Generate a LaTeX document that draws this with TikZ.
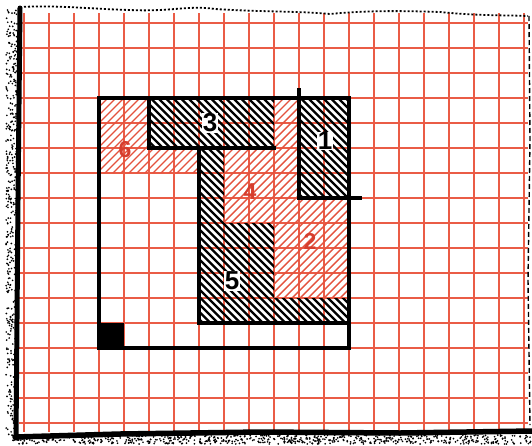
\documentclass[tikz,border=0pt]{standalone}
\usepackage{fontspec}
\setsansfont{Liberation Sans}
\definecolor{gridred}{RGB}{234,92,70}
\definecolor{hatchred}{RGB}{228,82,62}
\definecolor{labred}{RGB}{214,62,46}
\tikzset{
  gridline/.style={draw=gridred, line width=1.4pt},
  blackhatch/.style={draw=black, line width=2.3pt},
  redhatch/.style={draw=hatchred, line width=1.4pt},
  wall/.style={draw=black, line width=3.6pt, line join=miter, line cap=rect},
  blabel/.style={font=\sffamily\bfseries\fontsize{26}{26}\selectfont, text=black, fill=white, inner sep=0.5pt},
  rlabel/.style={font=\sffamily\bfseries\fontsize{23}{23}\selectfont, text=labred, inner sep=0.5pt}
}
\begin{document}
\begin{tikzpicture}[x=1pt,y=-1pt]
\useasboundingbox (0,0) rectangle (532,445);
\fill[white] (0,0) rectangle (532,445);
% grid paper
\foreach \i in {0,...,20} \draw[gridline] (24+25*\i,13) -- (24+25*\i,432);
\foreach \j in {0,...,16} \draw[gridline] (19,23+25*\j) -- (528,23+25*\j);
% red hatched areas
\begin{scope}
  \clip (99,98) -- (149,98) -- (149,148) -- (199,148) -- (199,173) -- (99,173) -- cycle;
  \foreach \s in {190,198,...,670} \draw[redhatch] (\s-80,80) -- (\s-360,360);
\end{scope}
\begin{scope}
  \clip (274,98) -- (299,98) -- (299,198) -- (349,198) -- (349,298) -- (274,298) -- (274,223) -- (224,223) -- (224,148) -- (274,148) -- cycle;
  \foreach \s in {190,198,...,670} \draw[redhatch] (\s-80,80) -- (\s-360,360);
\end{scope}
% black hatched areas
\begin{scope}
  \clip (149,98) -- (274,98) -- (274,148) -- (149,148) -- cycle;
  \foreach \c in {-180,-172.5,...,265} \draw[blackhatch] (\c+80,80) -- (\c+360,360);
\end{scope}
\begin{scope}
  \clip (299,98) -- (349,98) -- (349,198) -- (299,198) -- cycle;
  \foreach \c in {-180,-172.5,...,265} \draw[blackhatch] (\c+80,80) -- (\c+360,360);
\end{scope}
\begin{scope}
  \clip (199,148) -- (224,148) -- (224,223) -- (274,223) -- (274,298) -- (349,298) -- (349,323) -- (199,323) -- cycle;
  \foreach \c in {-180,-172.5,...,265} \draw[blackhatch] (\c+80,80) -- (\c+360,360);
\end{scope}
% walls
\draw[wall] (99,98) rectangle (349,348);
\draw[wall] (149,98) -- (149,148) -- (274,148);
\draw[wall] (199,148) -- (199,323) -- (349,323);
\draw[wall] (299,90) -- (299,198) -- (360,198);
\fill (99,323) rectangle (124,348);
% labels
\node[blabel] (n3) at (210,123) {3};
\node[blabel] (n1) at (325,141) {1};
\node[blabel] (n5) at (232,281) {5};
\node[rlabel] (n6) at (125,150) {6};
\node[rlabel] (n4) at (250,192) {4};
\node[rlabel] (n2) at (310,241) {2};
% torn paper edges
\draw[line width=1.8pt, dash pattern=on 2pt off 2pt]
  (20,7) .. controls (60,5) and (90,9) .. (130,10)
  .. controls (170,12) and (190,5) .. (215,9)
  .. controls (260,12) and (300,11) .. (330,14)
  .. controls (370,10) and (410,11) .. (440,12)
  .. controls (480,16) and (505,15) .. (528,16);
\draw[line width=1.4pt, dash pattern=on 5pt off 3pt] (529,16) -- (530,140) -- (528,280) -- (530,425);
\draw[line width=5pt, line cap=round] (20,8) -- (18,200) -- (16,438);
\draw[line width=5.5pt, line cap=round] (15,437) -- (120,434) -- (260,432) -- (400,433) -- (532,431);
\pgfmathsetseed{7}
\foreach \n in {1,...,450} {
  \pgfmathsetmacro\yy{10+rnd*430}
  \pgfmathsetmacro\xx{6+rnd*12}
  \fill (\xx,\yy) circle (0.95);
}
\foreach \n in {1,...,650} {
  \pgfmathsetmacro\xx{12+rnd*520}
  \pgfmathsetmacro\yy{435+rnd*9}
  \fill (\xx,\yy) circle (0.95);
}
\end{tikzpicture}
\end{document}
